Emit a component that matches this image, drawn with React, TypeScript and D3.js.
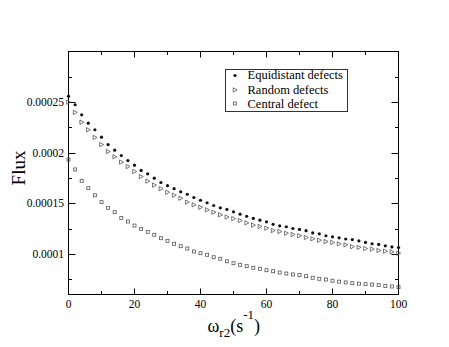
import React, { useEffect, useRef } from 'react';
import * as d3 from 'd3';

// omega_r2 values (s^-1)
const omega = [
  0, 2, 4, 6, 8, 10, 12, 14, 16, 18, 20, 22, 24, 26, 28, 30, 32, 34, 36, 38, 40,
  42, 44, 46, 48, 50, 52, 54, 56, 58, 60, 62, 64, 66, 68, 70, 72, 74, 76, 78, 80,
  82, 84, 86, 88, 90, 92, 94, 96, 98, 100,
];

const equidistant = [
  0.0002559, 0.0002474, 0.0002375, 0.0002292, 0.0002227, 0.0002154, 0.0002081,
  0.0002025, 0.0001973, 0.0001923, 0.0001877, 0.0001825, 0.0001792, 0.0001749,
  0.0001706, 0.0001675, 0.0001645, 0.0001614, 0.000159, 0.0001558, 0.0001531,
  0.0001506, 0.0001479, 0.0001456, 0.000144, 0.0001417, 0.0001393, 0.0001373,
  0.0001351, 0.0001334, 0.0001318, 0.0001294, 0.0001278, 0.0001269, 0.0001252,
  0.0001243, 0.000123, 0.0001208, 0.0001199, 0.000118, 0.000117, 0.000116,
  0.0001148, 0.0001142, 0.000113, 0.0001114, 0.0001101, 0.0001095, 0.0001081,
  0.000107, 0.0001064,
];

const random = [
  0.00025, 0.0002398, 0.0002302, 0.0002227, 0.0002151, 0.0002081, 0.0002012,
  0.000196, 0.0001907, 0.0001864, 0.0001815, 0.0001765, 0.000172, 0.000168,
  0.0001645, 0.000161, 0.0001581, 0.0001551, 0.0001512, 0.0001486, 0.0001462,
  0.0001436, 0.0001413, 0.0001387, 0.0001365, 0.000135, 0.0001331, 0.0001308,
  0.0001285, 0.0001272, 0.0001255, 0.0001232, 0.0001222, 0.0001205, 0.0001193,
  0.000118, 0.0001163, 0.000115, 0.0001136, 0.0001123, 0.0001114, 0.0001101,
  0.0001091, 0.0001072, 0.0001066, 0.0001054, 0.0001048, 0.0001035, 0.0001028,
  0.0001022, 0.0001008,
];

const central = [
  0.0001933, 0.0001835, 0.0001723, 0.000165, 0.000158, 0.0001512, 0.0001456,
  0.0001413, 0.0001357, 0.0001321, 0.0001281, 0.0001249, 0.0001219, 0.000119,
  0.0001156, 0.000113, 0.0001101, 0.0001077, 0.0001054, 0.0001025, 0.0001008,
  0.0000992, 0.0000968, 0.0000953, 0.0000928, 0.0000909, 0.0000893, 0.000088,
  0.0000864, 0.0000854, 0.000084, 0.000083, 0.0000817, 0.0000807, 0.0000798,
  0.0000792, 0.0000781, 0.0000765, 0.0000755, 0.0000748, 0.0000736, 0.0000727,
  0.0000719, 0.0000712, 0.0000707, 0.0000702, 0.0000698, 0.0000692, 0.0000684,
  0.0000679, 0.0000673,
];

const xMajor = [0, 20, 40, 60, 80, 100];
const xMinor = [10, 30, 50, 70, 90];
const yMajor = [0.0001, 0.00015, 0.0002, 0.00025];
const yMinor = [0.000075, 0.000125, 0.000175, 0.000225, 0.000275];
const yLabels = ['0.0001', '0.00015', '0.0002', '0.00025'];
const legendNames = ['Equidistant defects', 'Random defects', 'Central defect'];

const FONT = "'Liberation Serif', 'Times New Roman', Times, 'DejaVu Serif', serif";

function App() {
  const ref = useRef<SVGSVGElement>(null);

  useEffect(() => {
    const width = 449;
    const height = 347;
    const margin = { top: 51.5, right: 50.5, bottom: 52.5, left: 68.5 };

    const svg = d3.select(ref.current);
    svg.selectAll('*').remove();

    svg.append('rect').attr('width', width).attr('height', height).attr('fill', '#fff');

    const x = d3
      .scaleLinear()
      .domain([0, 100])
      .range([margin.left, width - margin.right]);

    const y = d3
      .scaleLinear()
      .domain([0.00006, 0.0003])
      .range([height - margin.bottom, margin.top]);

    const left = margin.left;
    const right = width - margin.right;
    const top = margin.top;
    const bottom = height - margin.bottom;

    const ticks = svg.append('g').attr('stroke', '#000').attr('stroke-width', 1);

    // inward ticks on all four sides
    xMajor.forEach((v) => {
      ticks.append('line').attr('x1', x(v)).attr('x2', x(v)).attr('y1', bottom).attr('y2', bottom - 6);
      ticks.append('line').attr('x1', x(v)).attr('x2', x(v)).attr('y1', top).attr('y2', top + 6);
    });
    xMinor.forEach((v) => {
      ticks.append('line').attr('x1', x(v)).attr('x2', x(v)).attr('y1', bottom).attr('y2', bottom - 3.5);
      ticks.append('line').attr('x1', x(v)).attr('x2', x(v)).attr('y1', top).attr('y2', top + 3.5);
    });
    yMajor.forEach((v) => {
      const yy = Math.round(y(v)) + 0.5;
      ticks.append('line').attr('x1', left).attr('x2', left + 7).attr('y1', yy).attr('y2', yy);
      ticks.append('line').attr('x1', right).attr('x2', right - 7).attr('y1', yy).attr('y2', yy);
    });
    yMinor.forEach((v) => {
      const yy = Math.round(y(v)) + 0.5;
      ticks.append('line').attr('x1', left).attr('x2', left + 3.5).attr('y1', yy).attr('y2', yy);
      ticks.append('line').attr('x1', right).attr('x2', right - 3.5).attr('y1', yy).attr('y2', yy);
    });

    svg
      .append('rect')
      .attr('x', left)
      .attr('y', top)
      .attr('width', right - left)
      .attr('height', bottom - top)
      .attr('fill', 'none')
      .attr('stroke', '#000')
      .attr('stroke-width', 1);

    // tick labels
    svg
      .append('g')
      .selectAll('text')
      .data(xMajor)
      .join('text')
      .attr('x', (d) => x(d))
      .attr('y', bottom + 13.5)
      .attr('text-anchor', 'middle')
      .style('font-family', FONT)
      .style('font-size', '11.5px')
      .text((d) => String(d));

    svg
      .append('g')
      .selectAll('text')
      .data(yMajor)
      .join('text')
      .attr('x', left - 4.5)
      .attr('y', (d) => y(d) + 4)
      .attr('text-anchor', 'end')
      .style('font-family', FONT)
      .style('font-size', '11.5px')
      .text((d, i) => yLabels[i]);

    // markers
    const tri = (cx: number, cy: number, s: number) =>
      `M${cx - s * 0.5},${cy - s * 0.6}L${cx + s * 0.6},${cy}L${cx - s * 0.5},${cy + s * 0.6}Z`;

    const pts = svg.append('g');

    pts
      .append('g')
      .selectAll('circle')
      .data(equidistant)
      .join('circle')
      .attr('cx', (d, i) => x(omega[i]))
      .attr('cy', (d) => y(d))
      .attr('r', 1.6)
      .attr('fill', '#111');

    pts
      .append('g')
      .selectAll('path')
      .data(random)
      .join('path')
      .attr('d', (d, i) => tri(x(omega[i]), y(d), 3.6))
      .attr('fill', 'none')
      .attr('stroke', '#555')
      .attr('stroke-width', 0.8);

    pts
      .append('g')
      .selectAll('rect')
      .data(central)
      .join('rect')
      .attr('x', (d, i) => x(omega[i]) - 1.5)
      .attr('y', (d) => y(d) - 1.5)
      .attr('width', 3)
      .attr('height', 3)
      .attr('fill', 'none')
      .attr('stroke', '#555')
      .attr('stroke-width', 0.8);

    // legend
    const legend = svg.append('g');
    legend
      .append('rect')
      .attr('x', 225.5)
      .attr('y', 69.5)
      .attr('width', 122)
      .attr('height', 42)
      .attr('fill', '#fff')
      .attr('stroke', '#333')
      .attr('stroke-width', 1);

    const rowsY = [75.5, 90, 103.5];
    const baselines = [79, 93.5, 107.5];
    legend.append('circle').attr('cx', 235).attr('cy', rowsY[0]).attr('r', 1.6).attr('fill', '#111');
    legend
      .append('path')
      .attr('d', tri(235, rowsY[1], 3.6))
      .attr('fill', 'none')
      .attr('stroke', '#555')
      .attr('stroke-width', 0.8);
    legend
      .append('rect')
      .attr('x', 233.5)
      .attr('y', rowsY[2] - 1.5)
      .attr('width', 3)
      .attr('height', 3)
      .attr('fill', 'none')
      .attr('stroke', '#555')
      .attr('stroke-width', 0.8);

    legend
      .selectAll('text')
      .data(legendNames)
      .join('text')
      .attr('x', 247.5)
      .attr('y', (d, i) => baselines[i])
      .style('font-family', FONT)
      .style('font-size', '12.5px')
      .text((d) => d);

    // axis titles
    svg
      .append('text')
      .attr('transform', `translate(25, ${(top + bottom) / 2 - 5}) rotate(-90)`)
      .attr('text-anchor', 'middle')
      .style('font-family', FONT)
      .style('font-size', '19px')
      .text('Flux');

    const xt = svg
      .append('text')
      .attr('x', 207.5)
      .attr('y', 332)
      .style('font-family', FONT)
      .style('font-size', '18px');
    xt.append('tspan').text('ω');
    xt.append('tspan').style('font-size', '13px').attr('dy', 5).text('r2');
    xt.append('tspan').attr('dy', -5).text('(s');
    xt.append('tspan').style('font-size', '13px').attr('dy', -13).text('-1');
    xt.append('tspan').attr('dy', 13).text(')');
  }, []);

  return (
    <svg
      ref={ref}
      width={449}
      height={347}
      style={{ position: 'absolute', left: 0, top: 0, display: 'block' }}
    />
  );
}

export default App;
